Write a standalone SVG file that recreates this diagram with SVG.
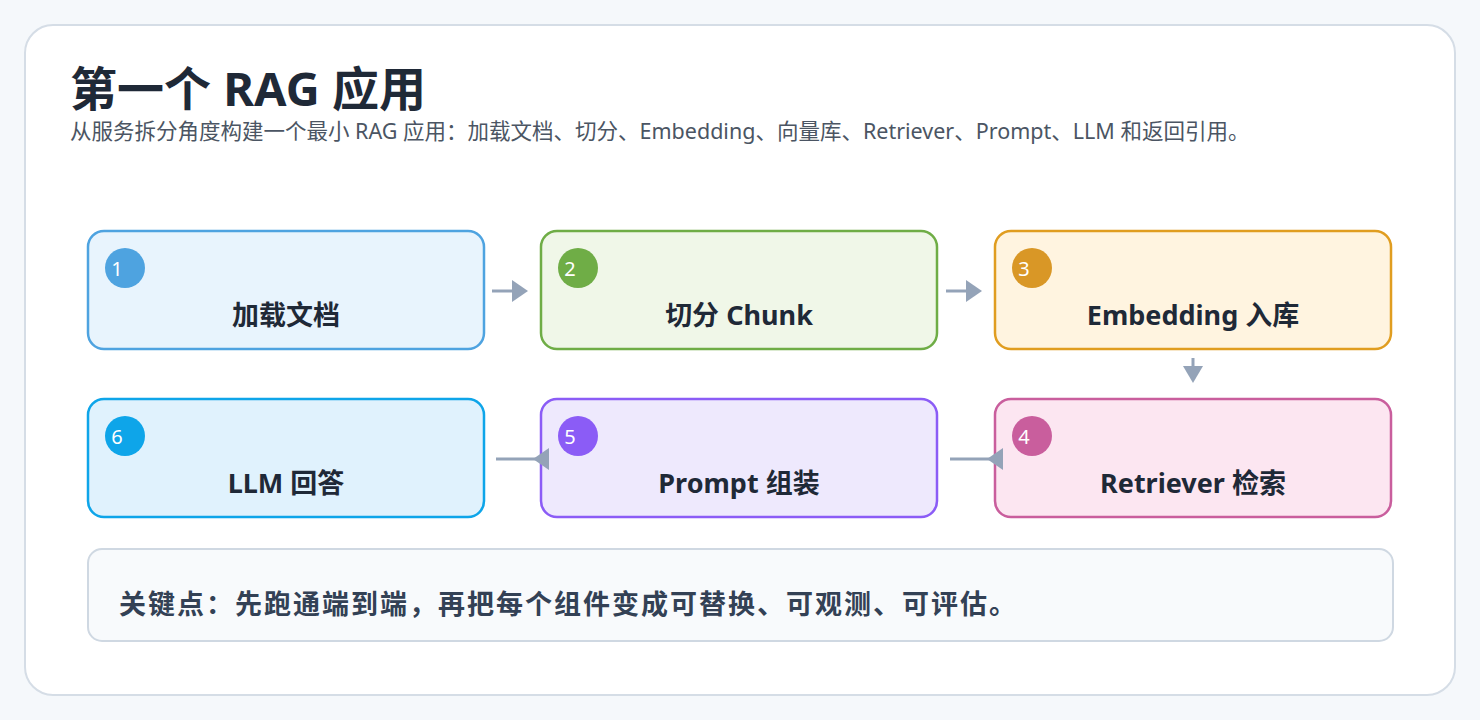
<svg xmlns="http://www.w3.org/2000/svg" width="1480" height="720" viewBox="0 0 1480 720">
<style>
text{font-family:"Segoe UI","Noto Sans","Noto Sans CJK SC",sans-serif}
.t{font-size:27px;font-weight:700;fill:#1f2937;text-anchor:middle}
.n{font-size:20px;fill:#fff;text-anchor:middle}
.c{fill:none;stroke:#94a3b8;stroke-width:3}
.h{fill:#94a3b8}
</style>
<rect width="1480" height="720" fill="#f5f8fb"/>
<rect x="25" y="25" width="1430" height="670" rx="28" fill="#fff" stroke="#d5dde6" stroke-width="2"/>
<text x="70" y="106" font-size="47" font-weight="700" fill="#1f2937">第一个 RAG 应用</text>
<text x="70" y="139" font-size="21.5" fill="#4b5563">从服务拆分角度构建一个最小 RAG 应用：加载文档、切分、Embedding、向量库、Retriever、Prompt、LLM 和返回引用。</text>
<g id="n1"><rect x="88" y="231" width="396" height="118" rx="16" fill="#e8f4fd" stroke="#4ea3e0" stroke-width="2.5"/><circle cx="125" cy="268" r="20" fill="#4ea3e0"/><text class="n" x="117" y="276">1</text><text class="t" x="286" y="325">加载文档</text></g>
<g id="n2"><rect x="541" y="231" width="396" height="118" rx="16" fill="#f0f7e8" stroke="#6fad46" stroke-width="2.5"/><circle cx="578" cy="268" r="20" fill="#6fad46"/><text class="n" x="570" y="276">2</text><text class="t" x="739" y="325">切分 Chunk</text></g>
<g id="n3"><rect x="995" y="231" width="396" height="118" rx="16" fill="#fff4e0" stroke="#e09d20" stroke-width="2.5"/><circle cx="1032" cy="268" r="20" fill="#d99726"/><text class="n" x="1024" y="276">3</text><text class="t" x="1193" y="325">Embedding 入库</text></g>
<g id="n4"><rect x="995" y="399" width="396" height="118" rx="16" fill="#fce6f1" stroke="#c95e9d" stroke-width="2.5"/><circle cx="1032" cy="436" r="20" fill="#c95e9d"/><text class="n" x="1024" y="444">4</text><text class="t" x="1193" y="493">Retriever 检索</text></g>
<g id="n5"><rect x="541" y="399" width="396" height="118" rx="16" fill="#eee9fd" stroke="#8b5cf6" stroke-width="2.5"/><circle cx="578" cy="436" r="20" fill="#8b5cf6"/><text class="n" x="570" y="444">5</text><text class="t" x="739" y="493">Prompt 组装</text></g>
<g id="n6"><rect x="88" y="399" width="396" height="118" rx="16" fill="#e0f2fd" stroke="#0ea5e9" stroke-width="2.5"/><circle cx="125" cy="436" r="20" fill="#0ea5e9"/><text class="n" x="117" y="444">6</text><text class="t" x="286" y="493">LLM 回答</text></g>
<g id="connectors">
<line class="c" x1="492" y1="291" x2="515" y2="291"/><polygon class="h" points="528,291 512,280 512,302"/>
<line class="c" x1="946" y1="291" x2="969" y2="291"/><polygon class="h" points="982,291 966,280 966,302"/>
<line class="c" x1="1193" y1="358" x2="1193" y2="370"/><polygon class="h" points="1193,383 1183,366 1203,366"/>
<line class="c" x1="950" y1="459" x2="990" y2="459"/><polygon class="h" points="987,459 1003,448 1003,470"/>
<line class="c" x1="496" y1="459" x2="536" y2="459"/><polygon class="h" points="533,459 549,448 549,470"/>
</g>
<g id="note"><rect x="88" y="549" width="1305" height="92" rx="14" fill="#f8fafc" stroke="#cfd8e2" stroke-width="2"/><text x="119" y="614" font-size="27" font-weight="700" letter-spacing="2" fill="#334155">关键点：先跑通端到端，再把每个组件变成可替换、可观测、可评估。</text></g>
</svg>
